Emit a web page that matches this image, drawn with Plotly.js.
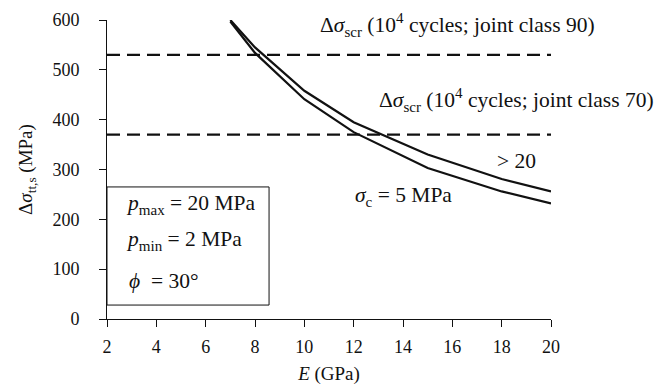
<!DOCTYPE html>
<html>
<head>
<meta charset="utf-8">
<script src="https://cdn.plot.ly/plotly-3.0.1.min.js"></script>
<style>html,body{margin:0;padding:0;background:#fff;}#chart{width:672px;height:389px;}</style>
</head>
<body>
<div id="chart"></div>
<script>
// E (GPa) values at which the curves are drawn
const E_values = [7, 8, 10, 12, 15, 18, 20];
// Upper curve (sigma_c > 20 MPa)
const stress_gt20 = [600, 545, 458, 395, 330, 281, 256];
// Lower curve (sigma_c = 5 MPa)
const stress_c5 = [597, 534, 441, 375, 303, 256, 232];
// Allowable stress ranges (dashed lines)
const limit_x = [2, 20];
const limit_class90 = 530;
const limit_class70 = 370;
// Axis ticks
const xTicks = [2, 4, 6, 8, 10, 12, 14, 16, 18, 20];
const yTicks = [0, 100, 200, 300, 400, 500, 600];

const FONT = 'Liberation Serif';
const BLACK = '#111111';

const traces = [
  {x: limit_x, y: [limit_class90, limit_class90], mode: 'lines', line: {color: BLACK, width: 2.2, dash: '13px,7px'}, hoverinfo: 'skip'},
  {x: limit_x, y: [limit_class70, limit_class70], mode: 'lines', line: {color: BLACK, width: 2.2, dash: '13px,7px'}, hoverinfo: 'skip'},
  {x: E_values, y: stress_gt20, mode: 'lines', line: {color: BLACK, width: 2.2}},
  {x: E_values, y: stress_c5, mode: 'lines', line: {color: BLACK, width: 2.2}}
];

const annFont = {family: FONT, size: 21.5, color: BLACK};
const tickFont = {family: FONT, size: 18, color: BLACK};
const layout = {
  width: 672, height: 389,
  margin: {l: 107, r: 121, t: 20, b: 70},
  paper_bgcolor: '#fff', plot_bgcolor: '#fff',
  showlegend: false,
  font: {family: FONT, size: 18, color: BLACK},
  xaxis: {
    range: [2, 20], tickvals: xTicks, ticks: 'outside', ticklen: 7, tickcolor: BLACK,
    showline: true, linecolor: BLACK, linewidth: 1, showgrid: false, zeroline: false,
    tickfont: tickFont, ticklabelstandoff: 4,
    title: {text: '<i>E</i> (GPa)', font: {family: FONT, size: 19, color: BLACK}, standoff: 11}
  },
  yaxis: {
    range: [0, 600], tickvals: yTicks, ticks: 'outside', ticklen: 7, tickcolor: BLACK,
    showline: true, linecolor: BLACK, linewidth: 1, showgrid: false, zeroline: false,
    tickfont: tickFont, ticklabelstandoff: 16,
    title: {text: 'Δ<i>σ</i><sub>tt,s</sub> (MPa)', font: {family: FONT, size: 19, color: BLACK}, standoff: 14}
  },
  shapes: [
    {type: 'rect', xref: 'x', yref: 'y', x0: 2, x1: 8.57, y0: 28, y1: 265, line: {color: BLACK, width: 1}}
  ],
  annotations: [
    {x: 16.19, y: 590, xref: 'x', yref: 'y', xanchor: 'center', yanchor: 'middle', showarrow: false,
     text: 'Δ<i>σ</i><sub>scr</sub> (10<sup>4</sup> cycles; joint class 90)', font: annFont},
    {x: 18.6, y: 439, xref: 'x', yref: 'y', xanchor: 'center', yanchor: 'middle', showarrow: false,
     text: 'Δ<i>σ</i><sub>scr</sub> (10<sup>4</sup> cycles; joint class 70)', font: annFont},
    {x: 18.62, y: 317, xref: 'x', yref: 'y', xanchor: 'center', yanchor: 'middle', showarrow: false,
     text: '> 20', font: annFont},
    {x: 14.04, y: 245, xref: 'x', yref: 'y', xanchor: 'center', yanchor: 'middle', showarrow: false,
     text: '<i>σ</i><sub>c</sub> = 5 MPa', font: annFont},
    {x: 2.69, y: 229, xref: 'x', yref: 'y', xanchor: 'left', yanchor: 'middle', showarrow: false,
     text: '<i>p</i><sub>max</sub> = 20 MPa', font: annFont},
    {x: 2.69, y: 157, xref: 'x', yref: 'y', xanchor: 'left', yanchor: 'middle', showarrow: false,
     text: '<i>p</i><sub>min</sub> = 2 MPa', font: annFont},
    {x: 2.81, y: 76, xref: 'x', yref: 'y', xanchor: 'left', yanchor: 'middle', showarrow: false,
     text: '<i>ϕ</i>  = 30°', font: annFont}
  ]
};
Plotly.newPlot('chart', traces, layout, {displayModeBar: false, staticPlot: true});
</script>
</body>
</html>
